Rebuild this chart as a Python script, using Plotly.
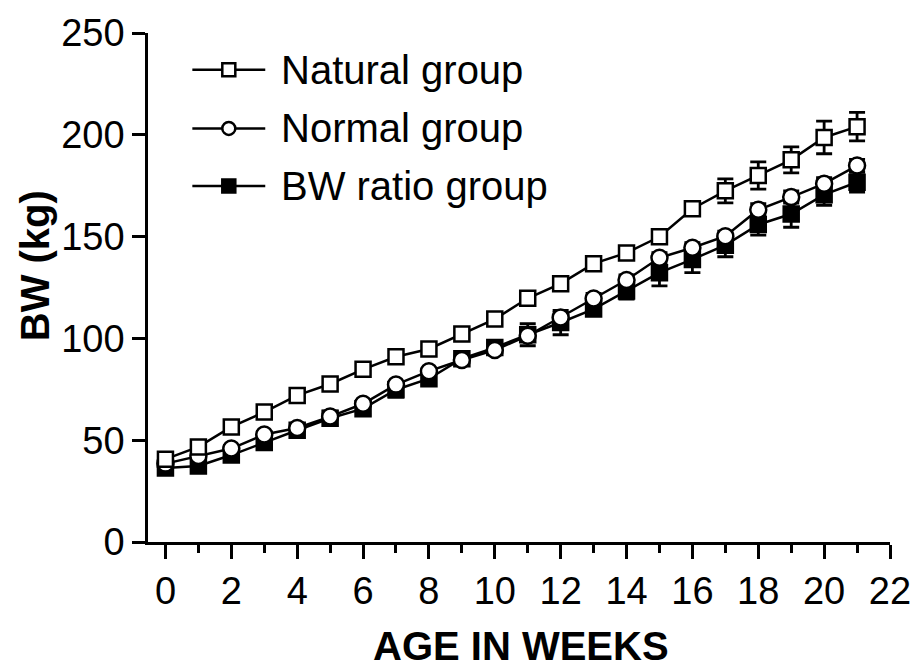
import plotly.graph_objects as go

weeks = list(range(22))
natural = [40.7, 46.7, 56.5, 63.8, 72.0, 77.6, 84.8, 91.0, 94.8, 102.1, 109.5, 119.7,
           126.9, 136.7, 142.0, 149.9, 163.7, 172.5, 180.0, 187.7, 198.7, 204.0]
natural_err = [1, 1, 1, 1, 1, 1, 1, 1, 1, 1, 1, 1,
               1.5, 1.5, 1.5, 2.5, 2.5, 5.9, 6.7, 6.4, 8.0, 7.0]
normal = [38.5, 42.2, 45.9, 52.8, 56.0, 61.6, 67.9, 77.3, 83.9, 89.4, 94.3, 101.3,
          110.3, 119.6, 128.7, 139.6, 144.5, 150.2, 163.2, 169.4, 176.0, 184.9]
normal_err = [1.5, 1.5, 1.5, 1.5, 1.5, 1.5, 1.5, 1.5, 1.5, 2, 2, 2,
              2.5, 2.5, 2.5, 2.5, 2.5, 2.5, 3, 3, 3, 3]
bw_ratio = [36.3, 37.3, 42.7, 48.9, 54.9, 60.8, 65.5, 74.8, 80.2, 90.0, 95.5, 101.8,
            107.8, 114.4, 123.3, 132.3, 138.8, 145.8, 155.9, 161.1, 170.6, 176.7]
bw_ratio_err = [1.5, 1.5, 1.5, 1.5, 2, 3.5, 3, 3.6, 2.8, 2, 2, 5.4,
                6.0, 2.4, 4.0, 6.5, 6.5, 5.7, 5.2, 6.5, 5.2, 4.9]

series_names = ["Natural group", "Normal group", "BW ratio group"]
x_ticks = list(range(0, 23, 2))
y_ticks = [0, 50, 100, 150, 200, 250]

FONT = "Liberation Sans, Arial, sans-serif"
BLACK = "#000000"

fig = go.Figure()

def add_series(y, err, symbol, fill, size):
    fig.add_trace(go.Scatter(
        x=weeks, y=y, mode="lines+markers",
        line=dict(color=BLACK, width=2.5),
        marker=dict(symbol=symbol, size=size, color=fill,
                    line=dict(color=BLACK, width=2.5)),
        error_y=dict(type="data", array=err, visible=True, color=BLACK,
                     thickness=2.8, width=8),
        showlegend=False, cliponaxis=False,
    ))

add_series(bw_ratio, bw_ratio_err, "square", BLACK, 15)
add_series(normal, normal_err, "circle", "white", 16)
add_series(natural, natural_err, "square", "white", 15)

# custom legend drawn on a pixel-like overlay axis
legend_rows = [67, 126, 184]
legend_styles = [("square", "white", 13), ("circle", "white", 13), ("square", BLACK, 13)]
for name, row, (sym, fill, sz) in zip(series_names, legend_rows, legend_styles):
    fig.add_trace(go.Scatter(
        x=[193, 267], y=[row, row], mode="lines", xaxis="x2", yaxis="y2",
        line=dict(color=BLACK, width=2.5), showlegend=False, hoverinfo="skip",
        cliponaxis=False,
    ))
    fig.add_trace(go.Scatter(
        x=[230], y=[row], mode="markers", xaxis="x2", yaxis="y2",
        marker=dict(symbol=sym, size=sz, color=fill, line=dict(color=BLACK, width=2.5)),
        showlegend=False, hoverinfo="skip", cliponaxis=False,
    ))
    fig.add_annotation(x=281, y=row, xref="x2", yref="y2", text=name,
                       showarrow=False, xanchor="left", yanchor="middle",
                       font=dict(family=FONT, size=40, color=BLACK))

fig.add_annotation(x=-0.1527, y=0.5432, xref="paper", yref="paper", text="BW (kg)",
                   textangle=-90, showarrow=False, xanchor="center", yanchor="middle",
                   font=dict(family=FONT, size=40, color=BLACK, weight="bold"))
fig.add_annotation(x=0.5033, y=-0.2044, xref="paper", yref="paper", text="AGE IN WEEKS",
                   showarrow=False, xanchor="center", yanchor="middle",
                   font=dict(family=FONT, size=40, color=BLACK, weight="bold"))

fig.update_layout(
    width=923, height=668,
    margin=dict(l=148, r=22, t=30, b=126, pad=0),
    paper_bgcolor="white", plot_bgcolor="white",
    showlegend=False,
    xaxis=dict(range=[-0.53, 22], tickvals=x_ticks, ticktext=[str(v) for v in x_ticks],
               showline=True, linecolor=BLACK, linewidth=2.5,
               ticks="outside", ticklen=14, tickwidth=2.5, tickcolor=BLACK,
               minor=dict(dtick=1, tick0=0, ticks="outside", ticklen=8,
                          tickwidth=2.5, tickcolor=BLACK, showgrid=False),
               showgrid=False, zeroline=False,
               tickfont=dict(family=FONT, size=38, color=BLACK)),
    yaxis=dict(range=[0, 250], tickvals=y_ticks,
               showline=True, linecolor=BLACK, linewidth=2.5,
               ticks="outside", ticklen=13, tickwidth=2.5, tickcolor=BLACK,
               showgrid=False, zeroline=False,
               tickfont=dict(family=FONT, size=38, color=BLACK)),
    xaxis2=dict(range=[148, 901], overlaying="x", visible=False, fixedrange=True),
    yaxis2=dict(range=[542.3, 30], overlaying="y", visible=False, fixedrange=True),
)

fig.write_html("out.html")
